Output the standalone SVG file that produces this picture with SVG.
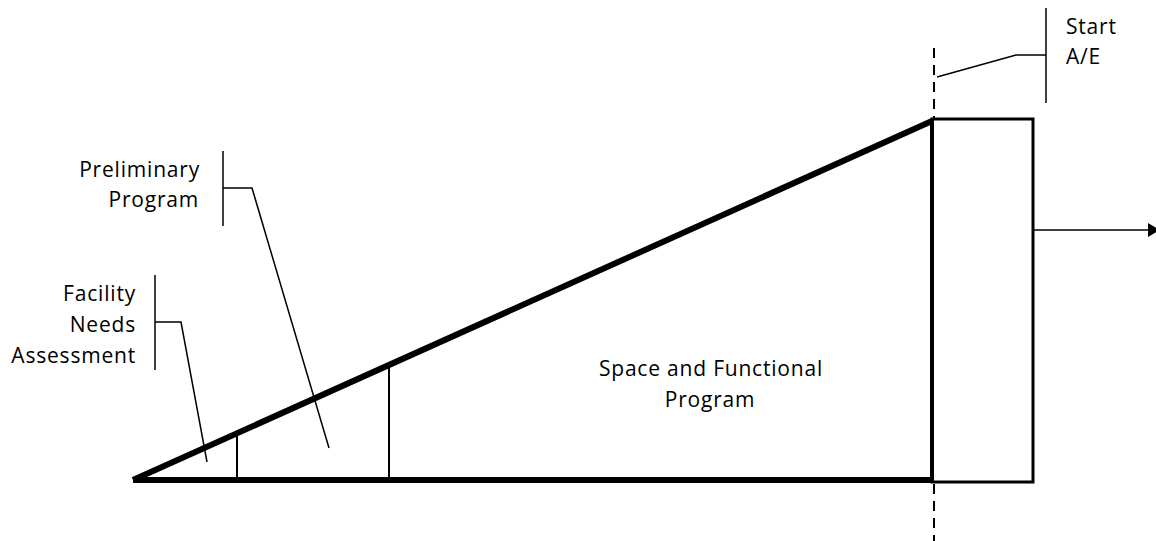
<svg xmlns="http://www.w3.org/2000/svg" width="1156" height="541" viewBox="0 0 1156 541">
<style>
text{font-family:"Open Sans","Liberation Sans",sans-serif;font-size:21px;letter-spacing:0.8px;fill:#000}
.thin{stroke:#000;stroke-width:1.5;fill:none}
.mid{stroke:#000;stroke-width:2;fill:none}
.dash{stroke:#000;stroke-width:2;stroke-dasharray:10,7;fill:none}
</style>
<defs>
<marker id="ah" markerWidth="12" markerHeight="14" refX="12" refY="7" orient="auto" markerUnits="userSpaceOnUse">
<path d="M0,0 L12,7 L0,14 Z" fill="#000"/>
</marker>
</defs>
<rect width="1156" height="541" fill="#fff"/>
<g id="triangle">
<line x1="133" y1="480" x2="932" y2="480" stroke="#000" stroke-width="6"/>
<line x1="133" y1="480" x2="932" y2="121" stroke="#000" stroke-width="6"/>
<line x1="932" y1="119" x2="932" y2="482" stroke="#000" stroke-width="4"/>
<line x1="237" y1="433" x2="237" y2="480" class="mid"/>
<line x1="389" y1="365" x2="389" y2="480" class="mid"/>
</g>
<g id="space">
<text x="711" y="376" text-anchor="middle">Space and Functional</text>
<text x="710" y="407" text-anchor="middle">Program</text>
</g>
<g id="box">
<rect x="932" y="119" width="101" height="363" fill="none" stroke="#000" stroke-width="3"/>
</g>
<g id="facility">
<text x="136" y="301" text-anchor="end">Facility</text>
<text x="136" y="332" text-anchor="end">Needs</text>
<text x="136" y="363" text-anchor="end">Assessment</text>
</g>
<g id="preliminary">
<text x="200" y="177" text-anchor="end">Preliminary</text>
<text x="199" y="207" text-anchor="end">Program</text>
</g>
<g id="start">
<text x="1066" y="34">Start</text>
<text x="1066" y="64">A/E</text>
</g>
<g id="connectors">
<line x1="934" y1="48" x2="934" y2="119" class="dash"/>
<line x1="934" y1="484" x2="934" y2="541" class="dash"/>
<line x1="1033" y1="230" x2="1160" y2="230" class="thin" marker-end="url(#ah)"/>
<polyline points="155,275 155,370" class="thin"/>
<polyline points="155,322 181,322 207,462" class="thin"/>
<polyline points="223,151 223,226" class="thin"/>
<polyline points="223,188 252,188 329,448" class="thin"/>
<polyline points="1046,8 1046,103" class="thin"/>
<polyline points="1046,55 1016,55 937,77" class="thin"/>
</g>
</svg>
